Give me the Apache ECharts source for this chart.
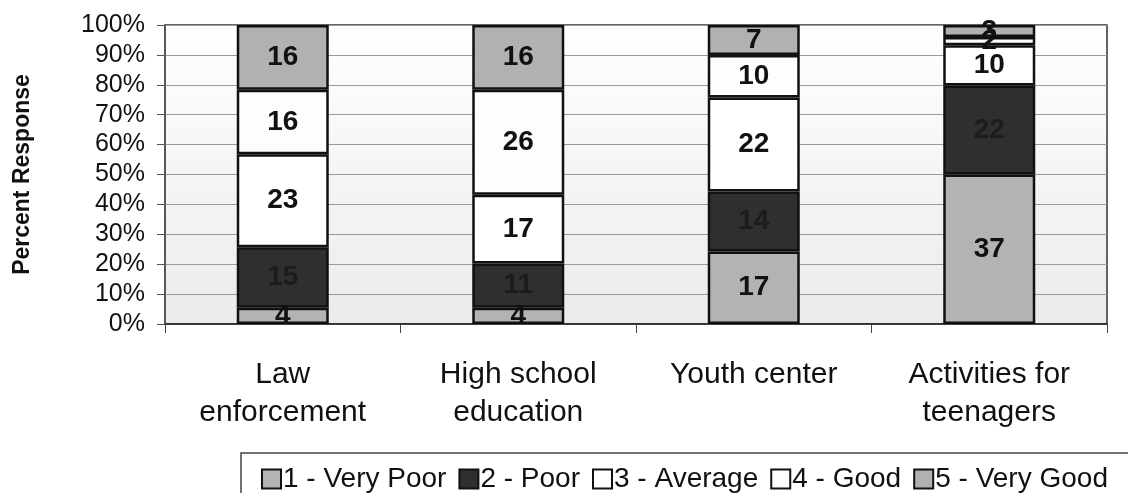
<!DOCTYPE html>
<html>
<head>
<meta charset="utf-8">
<script src="https://cdn.jsdelivr.net/npm/echarts@6/dist/echarts.min.js"></script>
<style>
  html, body { margin: 0; padding: 0; background: #ffffff; }
  #chart { width: 1128px; height: 493px; }
</style>
</head>
<body>
<div id="chart"></div>
<script>
// Survey ratings per service (response counts), shown as 100% stacked columns
const categories = ['Law\nenforcement', 'High school\neducation', 'Youth center', 'Activities for\nteenagers'];
const ratingNames = ['1 - Very Poor', '2 - Poor', '3 - Average', '4 - Good', '5 - Very Good'];
const veryPoor = [4, 4, 17, 37];
const poor = [15, 11, 14, 22];
const average = [23, 17, 22, 10];
const good = [16, 26, 10, 2];
const veryGood = [16, 16, 7, 3];
const yTicks = [0, 10, 20, 30, 40, 50, 60, 70, 80, 90, 100];

const counts = [veryPoor, poor, average, good, veryGood];
const fills = ['#b3b3b3', '#2f2f2f', '#ffffff', '#fdfdfd', '#b1b1b1'];
const labelColors = ['#111111', '#1c1c1c', '#111111', '#111111', '#111111'];

const totals = categories.map((_, c) => counts.reduce((s, arr) => s + arr[c], 0));

const FONT = '"Liberation Sans", Arial, Helvetica, sans-serif';

const series = counts.map((arr, i) => ({
  name: ratingNames[i],
  type: 'bar',
  stack: 'total',
  barWidth: 92,
  data: arr.map((v, c) => ({ value: v / totals[c] * 100, count: v })),
  itemStyle: { color: fills[i], borderColor: '#111111', borderWidth: 2.5 },
  label: {
    show: true,
    position: 'inside',
    formatter: p => String(p.data.count),
    fontFamily: FONT,
    fontWeight: 'bold',
    fontSize: 28,
    color: labelColors[i]
  }
}));

const chart = echarts.init(document.getElementById('chart'), null, { renderer: 'canvas' });
chart.setOption({
  animation: false,
  backgroundColor: '#ffffff',
  textStyle: { fontFamily: FONT, color: '#111111' },
  grid: {
    left: 165, right: 21, top: 25, bottom: 169,
    containLabel: false,
    outerBoundsMode: 'none',
    show: true,
    borderColor: '#333333',
    borderWidth: 1.5,
    backgroundColor: {
      type: 'linear', x: 0, y: 0, x2: 0, y2: 1,
      colorStops: [
        { offset: 0, color: '#ffffff' },
        { offset: 1, color: '#ebebeb' }
      ]
    }
  },
  legend: {
    left: 256,
    top: 460,
    width: 880,
    itemWidth: 19,
    itemHeight: 19,
    itemGap: 12,
    icon: 'rect',
    textStyle: { fontFamily: FONT, fontSize: 28, color: '#111111', padding: [0, 0, 0, -3] },
    data: ratingNames
  },
  graphic: [{
    type: 'rect',
    shape: { x: 241, y: 453, width: 1000, height: 100 },
    style: { fill: 'none', stroke: '#444444', lineWidth: 1.5 },
    silent: true,
    z: -1
  }],
  xAxis: {
    type: 'category',
    data: categories,
    axisLine: { show: true, lineStyle: { color: '#222222', width: 1.5 } },
    axisTick: { show: true, length: 9, lineStyle: { color: '#444444' } },
    axisLabel: {
      fontFamily: FONT,
      fontSize: 30,
      lineHeight: 38,
      color: '#111111',
      margin: 32
    }
  },
  yAxis: {
    type: 'value',
    min: yTicks[0],
    max: yTicks[yTicks.length - 1],
    interval: yTicks[1] - yTicks[0],
    name: 'Percent Response',
    nameLocation: 'middle',
    nameGap: 131,
    nameTextStyle: { fontFamily: FONT, fontWeight: 'bold', fontSize: 23, color: '#111111' },
    axisLine: { show: true, lineStyle: { color: '#555555', width: 1.5 } },
    axisTick: { show: true, length: 8, lineStyle: { color: '#555555' } },
    axisLabel: {
      fontFamily: FONT,
      fontSize: 25,
      color: '#111111',
      margin: 20,
      formatter: '{value}%'
    },
    splitLine: { show: true, lineStyle: { color: '#9a9a9a', width: 1 } }
  },
  series: series
});
</script>
</body>
</html>
